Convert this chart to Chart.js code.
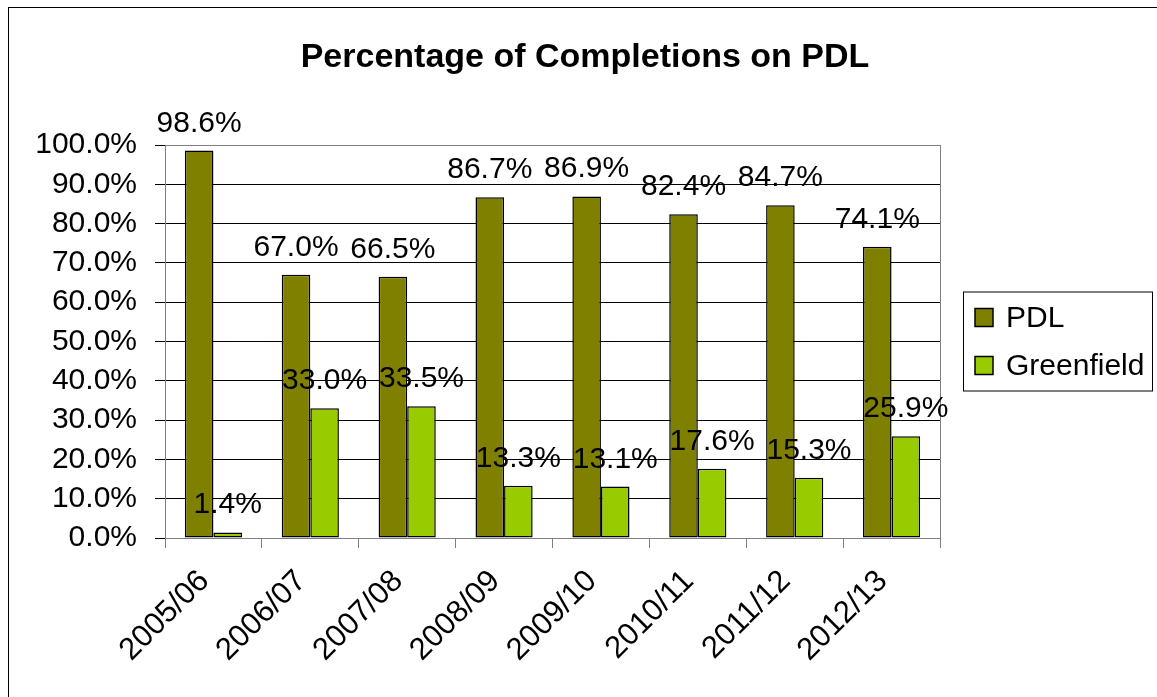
<!DOCTYPE html>
<html>
<head>
<meta charset="utf-8">
<title>Percentage of Completions on PDL</title>
<script src="https://cdn.jsdelivr.net/npm/chart.js@4.4.1/dist/chart.umd.min.js"></script>
<style>
    html, body { margin: 0; padding: 0; background: #fff; }
    #wrap { width: 1157px; height: 697px; }
</style>
</head>
<body>
<div id="wrap"><canvas id="pdlChart" width="1157" height="697"></canvas></div>
<script>
        // ===============================================
        // 1. Data
        // ===============================================
        const chartTitle = 'Percentage of Completions on PDL';
        const years = ['2005/06', '2006/07', '2007/08', '2008/09', '2009/10', '2010/11', '2011/12', '2012/13'];
        const pdlValues = [98.6, 67.0, 66.5, 86.7, 86.9, 82.4, 84.7, 74.1];
        const greenfieldValues = [1.4, 33.0, 33.5, 13.3, 13.1, 17.6, 15.3, 25.9];

        const FONT = "'Liberation Sans', Arial, sans-serif";

        // ===============================================
        // 2. Plugins (title, labels, legend, borders)
        // ===============================================
        const frameAndTitle = {
            id: 'frameAndTitle',
            beforeDraw(chart) {
                const c = chart.ctx;
                c.save();
                c.fillStyle = '#fff';
                c.fillRect(0, 0, chart.width, chart.height);
                c.strokeStyle = '#000';
                c.lineWidth = 1;
                c.strokeRect(8.5, 7.5, chart.width + 50, chart.height + 50);
                c.fillStyle = '#000';
                c.font = 'bold 34px ' + FONT;
                c.textAlign = 'center';
                c.textBaseline = 'alphabetic';
                c.fillText(chartTitle, 585, 67);
                c.restore();
            }
        };

        const plotBorder = {
            id: 'plotBorder',
            beforeDatasetsDraw(chart) {
                const a = chart.chartArea;
                const c = chart.ctx;
                c.save();
                c.strokeStyle = '#808080';
                c.lineWidth = 1;
                c.strokeRect(a.left + 0.5, a.top + 0.5, a.right - a.left, a.bottom - a.top);
                c.restore();
            }
        };

        const valueLabels = {
            id: 'valueLabels',
            afterDatasetsDraw(chart) {
                const c = chart.ctx;
                c.save();
                c.fillStyle = '#000';
                c.font = '30px ' + FONT;
                c.textAlign = 'center';
                c.textBaseline = 'alphabetic';
                chart.data.datasets.forEach((ds, i) => {
                    chart.getDatasetMeta(i).data.forEach((bar, j) => {
                        c.fillText(ds.data[j].toFixed(1) + '%', bar.x, bar.y - 19);
                    });
                });
                c.restore();
            }
        };

        const boxLegend = {
            id: 'boxLegend',
            afterDraw(chart) {
                const a = chart.chartArea;
                const c = chart.ctx;
                const left = a.right + 23;
                const mid = (a.top + a.bottom) / 2;
                const rowGap = 48;
                c.save();
                c.strokeStyle = '#000';
                c.lineWidth = 1;
                c.strokeRect(left + 0.5, mid - 49.5, 189, 99);
                c.font = '30px ' + FONT;
                c.textBaseline = 'middle';
                c.textAlign = 'left';
                chart.data.datasets.forEach((ds, i) => {
                    const cy = mid + (i - 0.5) * rowGap;
                    c.fillStyle = ds.backgroundColor;
                    c.fillRect(left + 12, cy - 9, 18, 18);
                    c.lineWidth = 1.5;
                    c.strokeRect(left + 12, cy - 9, 18, 18);
                    c.fillStyle = '#000';
                    c.fillText(ds.label, left + 43, cy + 1);
                });
                c.restore();
            }
        };

        // ===============================================
        // 3. Chart.js Setup
        // ===============================================
        const ctx = document.getElementById('pdlChart').getContext('2d');

        new Chart(ctx, {
            type: 'bar',
            data: {
                labels: years,
                datasets: [
                    {
                        label: 'PDL',
                        data: pdlValues,
                        backgroundColor: '#808000',
                        borderColor: '#000',
                        borderWidth: 1.5,
                        borderSkipped: false
                    },
                    {
                        label: 'Greenfield',
                        data: greenfieldValues,
                        backgroundColor: '#99CC00',
                        borderColor: '#000',
                        borderWidth: 1.5,
                        borderSkipped: false
                    }
                ]
            },
            options: {
                responsive: false,
                animation: false,
                layout: {
                    padding: { top: 145, left: 0, right: 217, bottom: 0 }
                },
                datasets: {
                    bar: {
                        categoryPercentage: 0.59,
                        barPercentage: 1.0
                    }
                },
                plugins: {
                    legend: { display: false },
                    title: { display: false },
                    tooltip: { enabled: false }
                },
                scales: {
                    x: {
                        afterFit: scale => { scale.height = 159; },
                        grid: {
                            offset: true,
                            drawOnChartArea: false,
                            color: '#808080',
                            tickLength: 10
                        },
                        border: { color: '#808080' },
                        ticks: {
                            color: '#000',
                            minRotation: 45,
                            maxRotation: 45,
                            padding: 15,
                            labelOffset: -9,
                            font: { family: FONT, size: 31 }
                        }
                    },
                    y: {
                        min: 0,
                        max: 100,
                        afterFit: scale => { scale.width = 165; },
                        grid: {
                            color: '#000',
                            tickLength: 10
                        },
                        border: { color: '#808080' },
                        ticks: {
                            stepSize: 10,
                            color: '#000',
                            padding: 18,
                            font: { family: FONT, size: 30 },
                            callback: value => value.toFixed(1) + '%'
                        }
                    }
                }
            },
            plugins: [frameAndTitle, plotBorder, valueLabels, boxLegend]
        });
</script>
</body>
</html>
